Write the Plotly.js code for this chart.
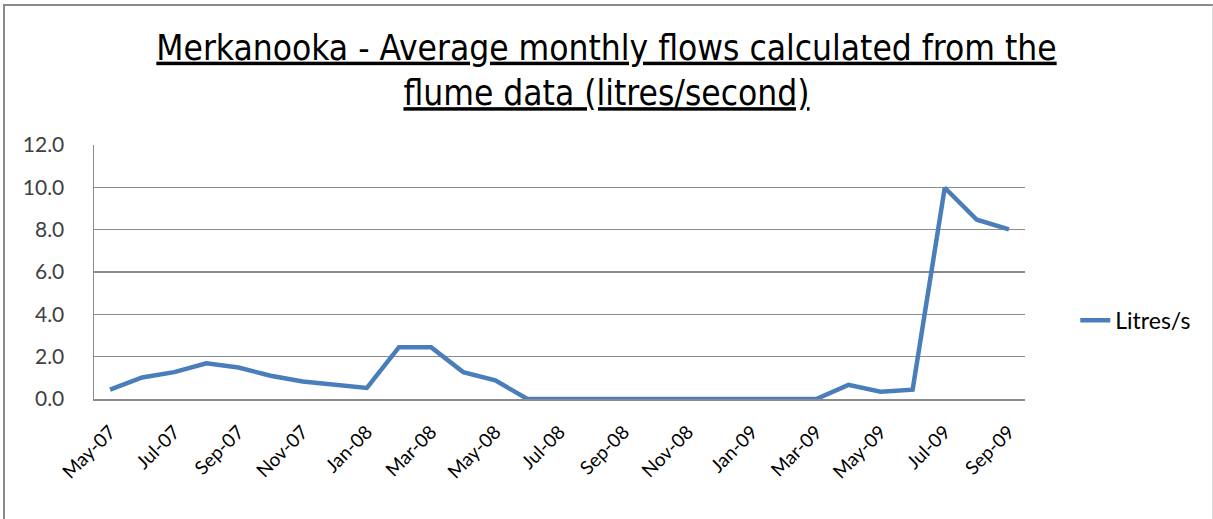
<!DOCTYPE html>
<html>
<head>
<meta charset="utf-8">
<script src="https://cdn.plot.ly/plotly-3.0.1.min.js"></script>
<style>
  html, body { margin: 0; padding: 0; background: #fff; }
  #wrap { position: relative; width: 1213px; height: 519px; }
  #chart { width: 1213px; height: 519px; }
  #frame { position: absolute; left: 3px; top: 4px; width: 1207px; height: 520px;
           border-left: 2px solid #8a8a8a; border-top: 2px solid #8a8a8a; border-right: 2px solid #d9d9d9;
           pointer-events: none; }
</style>
</head>
<body>
<div id="wrap">
  <div id="chart"></div>
  <div id="frame"></div>
</div>
<script>
const months = ["May-07","Jun-07","Jul-07","Aug-07","Sep-07","Oct-07","Nov-07","Dec-07",
  "Jan-08","Feb-08","Mar-08","Apr-08","May-08","Jun-08","Jul-08","Aug-08","Sep-08","Oct-08",
  "Nov-08","Dec-08","Jan-09","Feb-09","Mar-09","Apr-09","May-09","Jun-09","Jul-09","Aug-09","Sep-09"];
const litresPerSecond = [0.44,1.02,1.27,1.69,1.49,1.10,0.83,0.67,
  0.52,2.45,2.45,1.27,0.88,0.0,0.0,0.0,0.0,0.0,
  0.0,0.0,0.0,0.0,0.0,0.67,0.34,0.44,9.98,8.47,8.01];
const seriesName = "Litres/s";
const yTicks = [0,2,4,6,8,10,12];

const trace = {
  x: months, y: litresPerSecond, name: seriesName,
  type: "scatter", mode: "lines",
  line: { color: "#4a7ebb", width: 4.5 }
};

const layout = {
  width: 1213, height: 519,
  margin: { l: 94, r: 188, t: 145, b: 120 },
  paper_bgcolor: "#fff", plot_bgcolor: "#fff",
  title: {
    text: "<span style='text-decoration:underline'>Merkanooka - Average monthly flows calculated from the</span><br><span style='text-decoration:underline'>flume data (litres/second)</span>",
    font: { family: "Liberation Sans Narrow, DejaVu Sans Condensed, sans-serif", size: 35, color: "#000" },
    x: 0.5, xref: "container", y: 0.885, yref: "container", yanchor: "top"
  },
  xaxis: {
    type: "category", tickmode: "array",
    range: [-0.5, months.length - 0.5],
    tickvals: months.filter((m, i) => i % 2 === 0),
    ticktext: months.filter((m, i) => i % 2 === 0),
    tickangle: -45, showgrid: false, zeroline: false,
    showline: true, linecolor: "#8c8c8c", linewidth: 1.5,
    ticks: "", ticklabelstandoff: 13,
    tickfont: { family: "Lato, Open Sans, sans-serif", size: 19, color: "#000" }
  },
  yaxis: {
    range: [0, 12], tickmode: "array", tickvals: yTicks,
    ticktext: yTicks.map(v => v.toFixed(1)),
    showgrid: true, gridcolor: "#8c8c8c", gridwidth: 1.5,
    zeroline: false, showline: true, linecolor: "#8c8c8c", linewidth: 1.5,
    ticks: "", ticklen: 0, ticklabelstandoff: 24,
    tickfont: { family: "Lato, Open Sans, sans-serif", size: 21, color: "#404040" }
  },
  showlegend: true,
  legend: { x: 1.054, xanchor: "left", y: 0.31, yanchor: "middle",
    font: { family: "Lato, Open Sans, sans-serif", size: 23, color: "#000" },
    bgcolor: "rgba(0,0,0,0)" }
};

Plotly.newPlot("chart", [trace], layout, { displayModeBar: false, staticPlot: true });
</script>
</body>
</html>
